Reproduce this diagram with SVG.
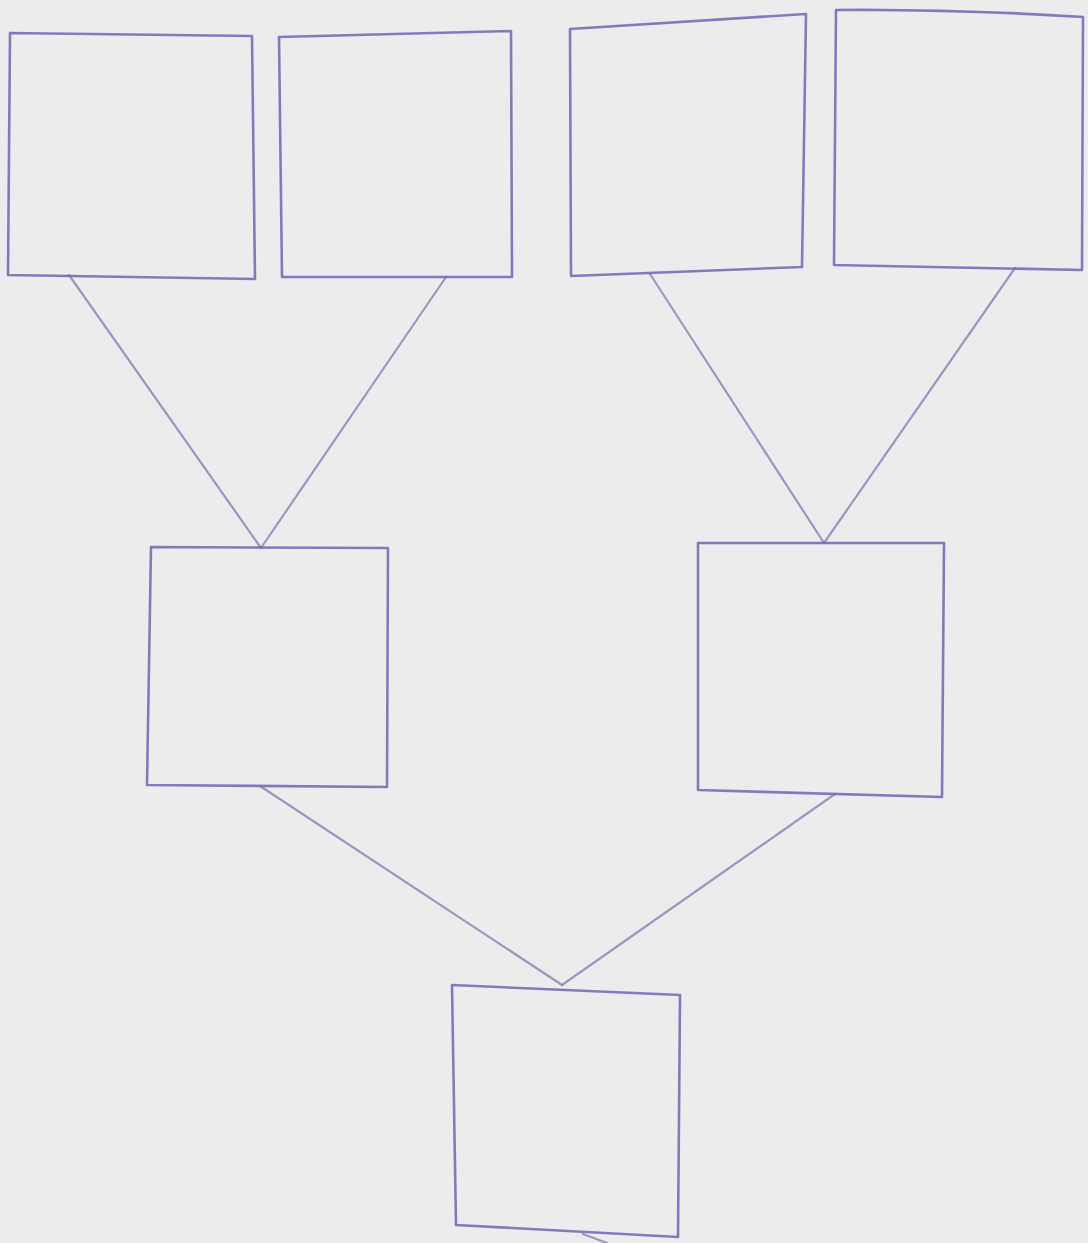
<svg xmlns="http://www.w3.org/2000/svg" width="1088" height="1243" viewBox="0 0 1088 1243">
  <style>
    .box { fill: none; stroke: #7564b4; stroke-width: 2.6; stroke-linejoin: round; stroke-linecap: round; opacity: 0.85; }
    .conn { fill: none; stroke: #8f88b4; stroke-width: 2.2; stroke-linecap: round; opacity: 0.85; }
  </style>
  <rect x="0" y="0" width="1088" height="1243" fill="#ebecee"/>
  <g id="connectors">
    <path class="conn" d="M69,275 L261,548"/>
    <path class="conn" d="M446,277 L261,548"/>
    <path class="conn" d="M650,274 L824,543"/>
    <path class="conn" d="M1015,268 L824,543"/>
    <path class="conn" d="M260,786 L562,985"/>
    <path class="conn" d="M835,794 L562,985"/>
    <path class="conn" d="M583,1234 L607,1243"/>
  </g>
  <g id="node1"><path class="box" d="M10,33 L252,36 L255,279 L8,275 Z"/></g>
  <g id="node2"><path class="box" d="M279,37 L511,31 L512,277 L282,277 Z"/></g>
  <g id="node3"><path class="box" d="M570,29 L806,14 L802,267 L571,276 Z"/></g>
  <g id="node4"><path class="box" d="M836,10 Q959,9 1083,17 L1082,270 L834,265 Z"/></g>
  <g id="node5"><path class="box" d="M151,547 L388,548 L387,787 L147,785 Z"/></g>
  <g id="node6"><path class="box" d="M698,543 L944,543 L942,797 L698,790 Z"/></g>
  <g id="node7"><path class="box" d="M452,985 L680,995 L678,1237 L456,1225 Z"/></g>
</svg>
